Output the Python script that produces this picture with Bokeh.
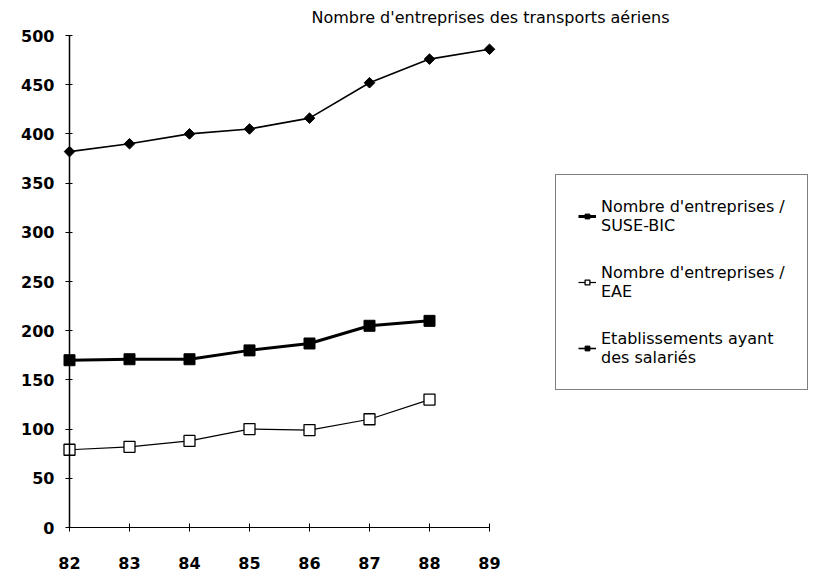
import math
from bokeh.plotting import figure
from bokeh.models import Range1d, FixedTicker, Legend, LegendItem, Label
from bokeh.embed import file_html
from bokeh.resources import INLINE

# ---- data ----
years = [82, 83, 84, 85, 86, 87, 88, 89]
year_labels = ["82", "83", "84", "85", "86", "87", "88", "89"]
suse_bic = [170, 171, 171, 180, 187, 205, 210]
eae = [79, 82, 88, 100, 99, 110, 130]
etablissements = [382, 390, 400, 405, 416, 452, 476, 486]
y_ticks = [0, 50, 100, 150, 200, 250, 300, 350, 400, 450, 500]
title_text = "Nombre d'entreprises des transports aériens"
series_names = [
    "Nombre d'entreprises /\nSUSE-BIC",
    "Nombre d'entreprises /\nEAE",
    "Etablissements ayant\ndes salariés",
]

# ---- layout (pixels) ----
W, H = 825, 572
PX_X = 60.0      # px per year
PX_Y = 0.984     # px per unit
ORIGIN_X = 69    # canvas px from left where first year sits
ORIGIN_Y = H - 527   # canvas px from bottom where 0 sits

xs = years[0] - ORIGIN_X / PX_X
ys = 0 - ORIGIN_Y / PX_Y

p = figure(width=W, height=H,
           x_range=Range1d(xs, xs + W / PX_X),
           y_range=Range1d(ys, ys + H / PX_Y),
           output_backend="svg", toolbar_location=None,
           min_border=0, min_border_left=0, min_border_right=0,
           min_border_top=0, min_border_bottom=0,
           outline_line_color=None, background_fill_color="white",
           border_fill_color="white")
p.grid.visible = False

tick_font = "DejaVu Sans"

# x axis
p.xaxis.fixed_location = 0
p.xaxis.bounds = (years[0], years[-1])
p.xaxis.ticker = FixedTicker(ticks=years)
p.xaxis.major_label_overrides = {y: l for y, l in zip(years, year_labels)}
p.xaxis.minor_tick_line_color = None
p.xaxis.major_tick_in = 4
p.xaxis.major_tick_out = 4
p.xaxis.axis_line_color = "black"
p.xaxis.major_tick_line_color = "black"
p.xaxis.major_label_text_font = tick_font
p.xaxis.major_label_text_font_style = "bold"
p.xaxis.major_label_text_font_size = "16px"
p.xaxis.major_label_text_color = "black"
p.xaxis.major_label_standoff = 25

# y axis
p.yaxis.fixed_location = years[0]
p.yaxis.bounds = (y_ticks[0], y_ticks[-1])
p.yaxis.ticker = FixedTicker(ticks=y_ticks)
p.yaxis.minor_tick_line_color = None
p.yaxis.major_tick_in = 3
p.yaxis.major_tick_out = 4
p.yaxis.axis_line_color = "black"
p.yaxis.axis_line_width = 1.5
p.yaxis.major_tick_line_color = "black"
p.yaxis.major_label_text_font = tick_font
p.yaxis.major_label_text_font_style = "bold"
p.yaxis.major_label_text_font_size = "16px"
p.yaxis.major_label_text_color = "black"
p.yaxis.major_label_standoff = 11

# ---- series ----
n1 = len(suse_bic)
r1l = p.line(years[:n1], suse_bic, line_color="black", line_width=3)
r1m = p.scatter(years[:n1], suse_bic, marker="square", size=11,
                fill_color="black", line_color="black")

n2 = len(eae)
r2l = p.line(years[:n2], eae, line_color="black", line_width=1.2)
r2m = p.scatter(years[:n2], eae, marker="square", size=11,
                fill_color="white", line_color="black", line_width=1.3)

r3l = p.line(years, etablissements, line_color="black", line_width=1.6)
r3m = p.scatter(years, etablissements, marker="square", size=7.5, angle=math.pi / 4,
                fill_color="black", line_color="black")

# ---- title ----
title = Label(x=xs + 490 / PX_X, y=ys + (H - 17) / PX_Y,
              text=title_text, text_align="center", text_baseline="middle",
              text_font="DejaVu Sans", text_font_size="16px", text_color="black")
p.add_layout(title)

# ---- legend ----
legend = Legend(items=[
    LegendItem(label=series_names[0], renderers=[r1l, r1m]),
    LegendItem(label=series_names[1], renderers=[r2l, r2m]),
    LegendItem(label=series_names[2], renderers=[r3l, r3m]),
], location=(555, H - 390))
legend.border_line_color = "black"
legend.border_line_width = 1
legend.background_fill_color = "white"
legend.background_fill_alpha = 1
legend.label_text_font = "DejaVu Sans"
legend.label_text_font_size = "16px"
legend.label_text_color = "black"
legend.label_text_line_height = 1.55
legend.padding = 22
legend.spacing = 28
legend.margin = 0
legend.glyph_width = 18
legend.glyph_height = 12
legend.label_standoff = 5
p.add_layout(legend)

open("out.html", "w").write(file_html(p, INLINE))
